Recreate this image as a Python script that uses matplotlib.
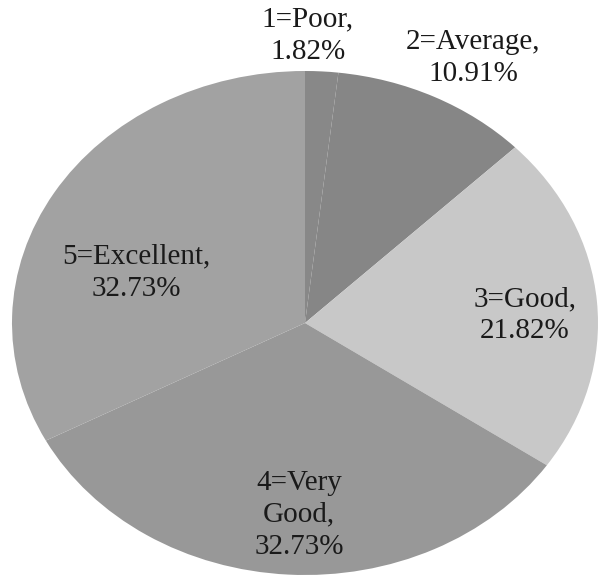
import numpy as np
import matplotlib
matplotlib.use("Agg")
import matplotlib.pyplot as plt

# Rating distribution
categories = ["1=Poor", "2=Average", "3=Good", "4=Very\nGood", "5=Excellent"]
shares = [1.82, 10.91, 21.82, 32.73, 32.73]

colors = ["#888888", "#868686", "#c8c8c8", "#989898", "#a2a2a2"]
# label anchor points in axes data units (pie radius = 1)
label_xy = [(0.01, 1.14), (0.575, 1.05), (0.75, 0.03), (-0.02, -0.76), (-0.575, 0.20)]

W, H = 599, 582
fig = plt.figure(figsize=(W / 100, H / 100), dpi=100)
# pie stretched into an ellipse (scanned figure)
left, right, top, bottom = 12, 598, 71, 575
ax = fig.add_axes([left / W, (H - bottom) / H, (right - left) / W, (bottom - top) / H])

wedges, _ = ax.pie(shares, colors=colors, startangle=90, counterclock=False,
                   radius=1, wedgeprops=dict(edgecolor="none"))
ax.set_aspect("auto")
ax.set_xlim(-1, 1)
ax.set_ylim(-1, 1)
ax.axis("off")

for cat, val, (x, y) in zip(categories, shares, label_xy):
    ax.text(x, y, f"{cat},\n{val:.2f}%", ha="center", va="center",
            fontsize=21, family="Liberation Serif", color="#1a1a1a",
            linespacing=1.3, clip_on=False)

fig.savefig("out.png", dpi=100)
